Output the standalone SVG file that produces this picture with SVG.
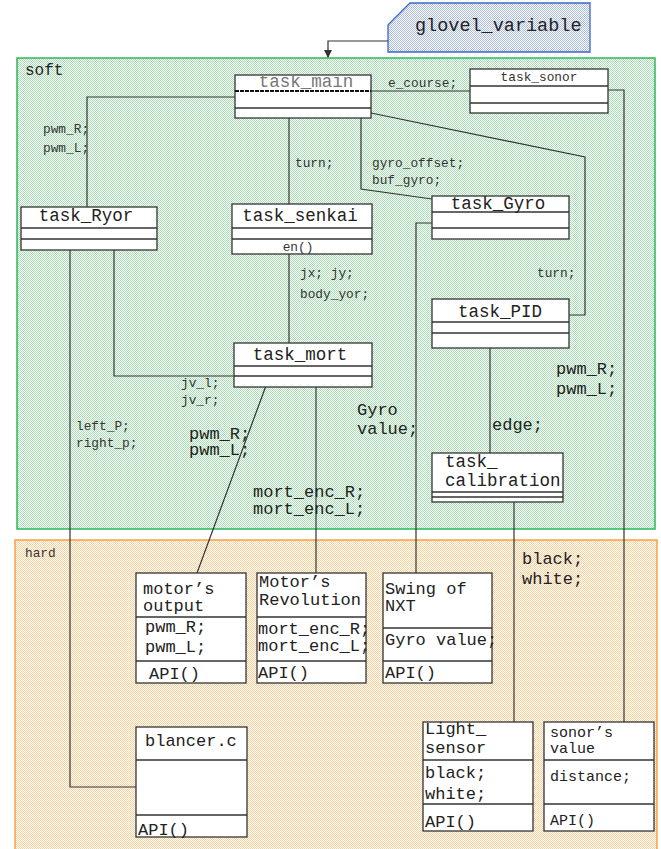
<svg xmlns="http://www.w3.org/2000/svg" width="661" height="849" viewBox="0 0 661 849">
<defs>
<pattern id="pg" width="2" height="2" patternUnits="userSpaceOnUse"><rect width="2" height="2" fill="#ffffff"/><rect width="1" height="1" fill="#a6dfb2"/><rect x="1" y="1" width="1" height="1" fill="#a6dfb2"/></pattern>
<pattern id="po" width="2" height="2" patternUnits="userSpaceOnUse"><rect width="2" height="2" fill="#ffffff"/><rect width="1" height="1" fill="#fccf98"/><rect x="1" y="1" width="1" height="1" fill="#fccf98"/></pattern>
<pattern id="pb" width="2" height="2" patternUnits="userSpaceOnUse"><rect width="2" height="2" fill="#ffffff"/><rect width="1" height="1" fill="#a9bae2"/><rect x="1" y="1" width="1" height="1" fill="#a9bae2"/></pattern>
<marker id="arr" viewBox="0 0 8 8" refX="7" refY="4" markerWidth="8" markerHeight="8" markerUnits="userSpaceOnUse" orient="auto"><path d="M0,0 L8,4 L0,8 z" fill="#333"/></marker>
<style>
text{font-family:"Liberation Mono","DejaVu Sans Mono",monospace;fill:#222}
.box{fill:#fff;stroke:#333;stroke-width:1.3}
.div{stroke:#333;stroke-width:1.3}
.t{font-size:17.5px}
.s{font-size:12.8px;fill:#333}
.l{font-size:17px}
.c{stroke:#333;stroke-width:1.2;fill:none}
</style>
</defs>
<rect x="17" y="58" width="638" height="471" fill="url(#pg)" stroke="#2db85a" stroke-width="1.5"/>
<text x="25" y="75" style="font-size:16px">soft</text>
<rect x="15" y="540" width="642" height="320" fill="url(#po)" stroke="#f5a242" stroke-width="1.5"/>
<text x="25" y="557" class="s">hard</text>
<g id="glovel_variable">
<polygon points="388,25 410,3 590,3 590,52 388,52" fill="url(#pb)" stroke="#3a66c8" stroke-width="1.3"/>
<text x="415" y="31" style="font-size:18.5px">glovel_variable</text>
</g>
<g id="connectors">
<polyline class="c" points="388,41 328,41 328,57" marker-end="url(#arr)"/>
<polyline class="c" points="235,97 87,97 87,207"/>
<polyline class="c" points="289,118 289,204"/>
<polyline class="c" points="361,118 361,189 432,199"/>
<polyline class="c" points="371,113 585,157 585,315 569,315"/>
<polyline class="c" points="371,91 470,91"/>
<polyline class="c" points="608,90 624,90 624,722"/>
<polyline class="c" points="289,254 289,343"/>
<polyline class="c" points="114,250 114,376 234,376"/>
<polyline class="c" points="70,250 70,787 136,787"/>
<polyline class="c" points="267,383 197,573"/>
<polyline class="c" points="316,387 316,573"/>
<polyline class="c" points="432,223 416,223 416,573"/>
<polyline class="c" points="490,348 490,453"/>
<polyline class="c" points="514,502 514,722"/>
<text x="388" y="87" class="s">e_course;</text>
<text x="43" y="133" class="s">pwm_R;</text>
<text x="43" y="152" class="s">pwm_L;</text>
<text x="295" y="167" class="s">turn;</text>
<text x="372" y="167" class="s">gyro_offset;</text>
<text x="372" y="184" class="s">buf_gyro;</text>
<text x="537" y="277" class="s">turn;</text>
<text x="300" y="277" class="s">jx; jy;</text>
<text x="300" y="298" class="s">body_yor;</text>
<text x="181" y="387" class="s">jv_l;</text>
<text x="181" y="404" class="s">jv_r;</text>
<text x="76" y="430" class="s">left_P;</text>
<text x="76" y="447" class="s">right_p;</text>
<text x="189" y="439" class="l">pwm_R;</text>
<text x="189" y="455" class="l">pwm_L;</text>
<text x="357" y="415" class="l">Gyro</text>
<text x="357" y="434" class="l">value;</text>
<text x="492" y="430" class="l">edge;</text>
<text x="556" y="374" class="l">pwm_R;</text>
<text x="556" y="394" class="l">pwm_L;</text>
<text x="253" y="497" class="l">mort_enc_R;</text>
<text x="253" y="514" class="l">mort_enc_L;</text>
<text x="522" y="564" class="l">black;</text>
<text x="522" y="584" class="l">white;</text>
</g>
<g id="task_main">
<rect class="box" x="235" y="75" width="136" height="43"/>
<line x1="235" y1="91" x2="371" y2="91" stroke="#111" stroke-width="2" stroke-dasharray="4 1"/>
<line class="div" x1="235" y1="108" x2="371" y2="108"/>
<text x="306" y="87" class="t" text-anchor="middle" style="fill:#777">task_main</text>
</g>
<g id="task_sonor">
<rect class="box" x="470" y="69" width="138" height="44"/>
<line class="div" x1="470" y1="86" x2="608" y2="86"/>
<line class="div" x1="470" y1="103" x2="608" y2="103"/>
<text x="539" y="81" class="s" text-anchor="middle">task_sonor</text>
</g>
<g id="task_Ryor">
<rect class="box" x="21" y="207" width="136" height="43"/>
<line class="div" x1="21" y1="228" x2="157" y2="228"/>
<line class="div" x1="21" y1="239" x2="157" y2="239"/>
<text x="86" y="221" class="t" text-anchor="middle">task_Ryor</text>
</g>
<g id="task_senkai">
<rect class="box" x="232" y="204" width="140" height="50"/>
<line class="div" x1="232" y1="228" x2="372" y2="228"/>
<line class="div" x1="232" y1="239" x2="372" y2="239"/>
<text x="300" y="221" class="t" text-anchor="middle">task_senkai</text>
<text x="298" y="251" class="s" text-anchor="middle">en()</text>
</g>
<g id="task_Gyro">
<rect class="box" x="432" y="196" width="137" height="43"/>
<line class="div" x1="432" y1="212" x2="569" y2="212"/>
<line class="div" x1="432" y1="228" x2="569" y2="228"/>
<text x="498" y="209" class="t" text-anchor="middle">task_Gyro</text>
</g>
<g id="task_PID">
<rect class="box" x="432" y="299" width="137" height="49"/>
<line class="div" x1="432" y1="322" x2="569" y2="322"/>
<line class="div" x1="432" y1="333" x2="569" y2="333"/>
<text x="500" y="317" class="t" text-anchor="middle">task_PID</text>
</g>
<g id="task_mort">
<rect class="box" x="234" y="343" width="138" height="44"/>
<line class="div" x1="234" y1="366" x2="372" y2="366"/>
<line class="div" x1="234" y1="376" x2="372" y2="376"/>
<text x="300" y="360" class="t" text-anchor="middle">task_mort</text>
</g>
<g id="task_calibration">
<rect class="box" x="432" y="453" width="131" height="49"/>
<line class="div" x1="432" y1="492" x2="563" y2="492"/>
<line class="div" x1="432" y1="497" x2="563" y2="497"/>
<text x="445" y="467" class="t">task_</text>
<text x="445" y="486" class="t">calibration</text>
</g>
<g id="motors_output">
<rect class="box" x="136" y="573" width="110" height="110"/>
<line class="div" x1="136" y1="617" x2="246" y2="617"/>
<line class="div" x1="136" y1="661" x2="246" y2="661"/>
<text x="143" y="594" class="l">motor’s</text>
<text x="143" y="611" class="l">output</text>
<text x="145" y="632" class="l">pwm_R;</text>
<text x="145" y="652" class="l">pwm_L;</text>
<text x="149" y="679" class="l">API()</text>
</g>
<g id="motors_revolution">
<rect class="box" x="257" y="573" width="109" height="110"/>
<line class="div" x1="257" y1="617" x2="366" y2="617"/>
<line class="div" x1="257" y1="661" x2="366" y2="661"/>
<text x="259" y="587" class="l">Motor’s</text>
<text x="259" y="605" class="l">Revolution</text>
<text x="258" y="634" class="l">mort_enc_R;</text>
<text x="258" y="651" class="l">mort_enc_L;</text>
<text x="258" y="678" class="l">API()</text>
</g>
<g id="swing_of_nxt">
<rect class="box" x="383" y="573" width="109" height="110"/>
<line class="div" x1="383" y1="628" x2="492" y2="628"/>
<line class="div" x1="383" y1="661" x2="492" y2="661"/>
<text x="385" y="594" class="l">Swing of</text>
<text x="385" y="611" class="l">NXT</text>
<text x="385" y="645" class="l">Gyro value;</text>
<text x="385" y="678" class="l">API()</text>
</g>
<g id="blancer_c">
<rect class="box" x="136" y="727" width="111" height="110"/>
<line class="div" x1="136" y1="760" x2="247" y2="760"/>
<line class="div" x1="136" y1="815" x2="247" y2="815"/>
<text x="145" y="746" class="l">blancer.c</text>
<text x="138" y="835" class="l">API()</text>
</g>
<g id="light_sensor">
<rect class="box" x="423" y="722" width="110" height="109"/>
<line class="div" x1="423" y1="760" x2="533" y2="760"/>
<line class="div" x1="423" y1="804" x2="533" y2="804"/>
<text x="425" y="734" class="l">Light_</text>
<text x="425" y="753" class="l">sensor</text>
<text x="425" y="778" class="l">black;</text>
<text x="425" y="799" class="l">white;</text>
<text x="425" y="827" class="l">API()</text>
</g>
<g id="sonors_value">
<rect class="box" x="544" y="722" width="110" height="109"/>
<line class="div" x1="544" y1="760" x2="654" y2="760"/>
<line class="div" x1="544" y1="804" x2="654" y2="804"/>
<text x="550" y="737" style="font-size:15px">sonor’s</text>
<text x="550" y="753" style="font-size:15px">value</text>
<text x="550" y="781" style="font-size:15px">distance;</text>
<text x="550" y="825" style="font-size:15px">API()</text>
</g>
</svg>
